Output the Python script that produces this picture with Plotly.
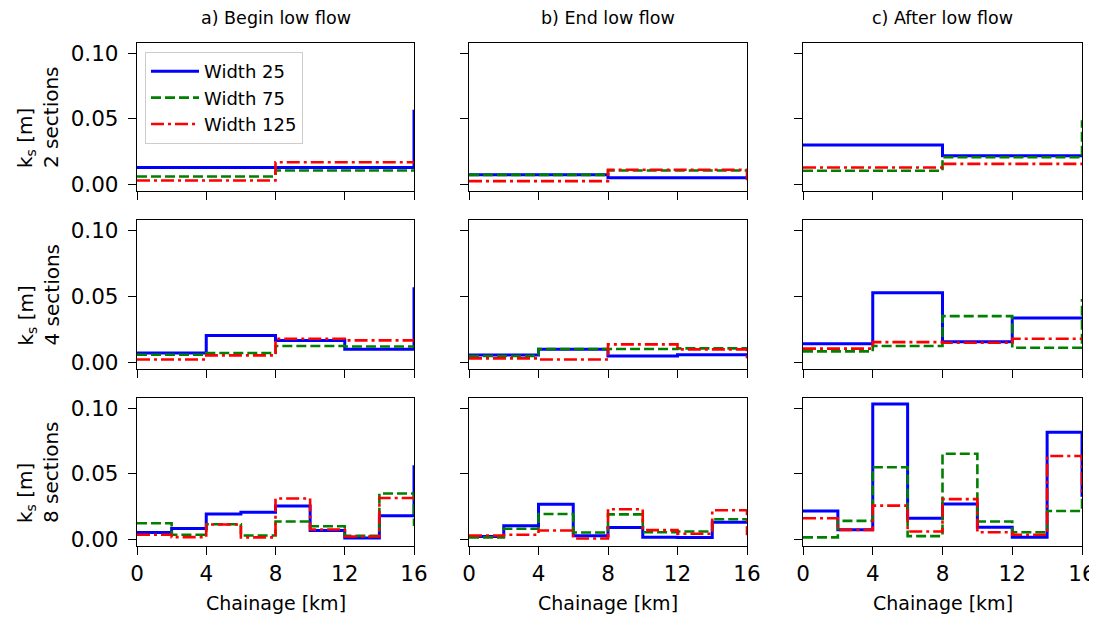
import plotly.graph_objects as go

# ---- data -------------------------------------------------------------
# section boundaries (km); last entry is the end of the reach (16 km)
edges_2 = [0, 8, 16]
edges_4 = [0, 4, 8, 12, 16]
edges_8 = [0, 2, 4, 6, 8, 10, 12, 14, 16]

series_names = ["Width 25", "Width 75", "Width 125"]
col_titles = ["a) Begin low flow", "b) End low flow", "c) After low flow"]
row_labels = ["2 sections", "4 sections", "8 sections"]
x_ticks = [0, 4, 8, 12, 16]
y_ticks = [0.0, 0.05, 0.10]
y_tick_text = ["0.00", "0.05", "0.10"]

# ks per section [m]; last value is the value reported at the end (16 km)
begin_2_w25 = [0.0127, 0.0127, 0.057]
begin_2_w75 = [0.0058, 0.0104, 0.0104]
begin_2_w125 = [0.0028, 0.0168, 0.0168]
end_2_w25 = [0.0071, 0.0048, 0.0048]
end_2_w75 = [0.0071, 0.0104, 0.0104]
end_2_w125 = [0.0023, 0.0110, 0.0030]
after_2_w25 = [0.0300, 0.0218, 0.0218]
after_2_w75 = [0.0102, 0.0206, 0.049]
after_2_w125 = [0.0127, 0.0155, 0.0155]

begin_4_w25 = [0.0069, 0.0203, 0.0165, 0.0097, 0.057]
begin_4_w75 = [0.0056, 0.0069, 0.0122, 0.0119, 0.0119]
begin_4_w125 = [0.0020, 0.0051, 0.0178, 0.0165, 0.0165]
end_4_w25 = [0.0053, 0.0097, 0.0046, 0.0056, 0.0056]
end_4_w75 = [0.0046, 0.0099, 0.0099, 0.0104, 0.0104]
end_4_w125 = [0.0028, 0.0020, 0.0135, 0.0097, 0.0010]
after_4_w25 = [0.0140, 0.0528, 0.0155, 0.0335, 0.0335]
after_4_w75 = [0.0081, 0.0122, 0.0350, 0.0109, 0.048]
after_4_w125 = [0.0102, 0.0152, 0.0147, 0.0178, 0.0178]

begin_8_w25 = [0.0051, 0.0081, 0.0193, 0.0206, 0.0254, 0.0066, 0.0008, 0.0180, 0.0566]
begin_8_w75 = [0.0122, 0.0033, 0.0114, 0.0028, 0.0135, 0.0099, 0.0025, 0.0350, 0.0100]
begin_8_w125 = [0.0033, 0.0015, 0.0112, 0.0013, 0.0312, 0.0074, 0.0020, 0.0315, 0.0315]
end_8_w25 = [0.0020, 0.0102, 0.0267, 0.0025, 0.0089, 0.0015, 0.0013, 0.0130, 0.0130]
end_8_w75 = [0.0013, 0.0079, 0.0193, 0.0051, 0.0190, 0.0053, 0.0058, 0.0152, 0.0152]
end_8_w125 = [0.0028, 0.0033, 0.0066, 0.0005, 0.0229, 0.0069, 0.0041, 0.0221, 0.0030]
after_8_w25 = [0.0216, 0.0071, 0.1036, 0.0160, 0.0269, 0.0091, 0.0015, 0.0820, 0.0325]
after_8_w75 = [0.0013, 0.0140, 0.0551, 0.0023, 0.0655, 0.0135, 0.0053, 0.0216, 0.0325]
after_8_w125 = [0.0160, 0.0071, 0.0257, 0.0058, 0.0307, 0.0053, 0.0033, 0.0638, 0.0325]

grid = [
    [(edges_2, [begin_2_w25, begin_2_w75, begin_2_w125]),
     (edges_2, [end_2_w25, end_2_w75, end_2_w125]),
     (edges_2, [after_2_w25, after_2_w75, after_2_w125])],
    [(edges_4, [begin_4_w25, begin_4_w75, begin_4_w125]),
     (edges_4, [end_4_w25, end_4_w75, end_4_w125]),
     (edges_4, [after_4_w25, after_4_w75, after_4_w125])],
    [(edges_8, [begin_8_w25, begin_8_w75, begin_8_w125]),
     (edges_8, [end_8_w25, end_8_w75, end_8_w125]),
     (edges_8, [after_8_w25, after_8_w75, after_8_w125])],
]

# ---- styling ----------------------------------------------------------
FONT = "DejaVu Sans"
OFF = 8                      # page body margin: figure is drawn at (8, 8)
W, H = 1097 - OFF, 619 - OFF

# panel edges in page pixels
col_px = [(137, 414), (469, 747), (803, 1082)]
row_px = [(43, 191), (220, 369), (398, 546)]

ML = col_px[0][0] - OFF
MR = W - (col_px[2][1] - OFF)
MT = row_px[0][0] - OFF
MB = H - (row_px[2][1] - OFF)
PW, PH = W - ML - MR, H - MT - MB


def px_x(x):
    return (x - OFF - ML) / PW


def px_y(y):
    return (H - MB - (y - OFF)) / PH


styles = [
    dict(color="#0000ff", width=3.0, dash="solid"),
    dict(color="#008000", width=2.6, dash="10px,4px"),
    dict(color="#ff0000", width=2.6, dash="13px,4px,3px,4px"),
]

fig = go.Figure()
layout = {}
Y_RANGE = [-0.0053, 0.1083]

for r in range(3):
    for c in range(3):
        idx = r * 3 + c + 1
        xa = "x" if idx == 1 else f"x{idx}"
        ya = "y" if idx == 1 else f"y{idx}"
        edges, vals = grid[r][c]
        for s in range(3):
            fig.add_trace(go.Scatter(
                x=edges, y=vals[s], mode="lines", line_shape="hv",
                line=styles[s], name=series_names[s],
                showlegend=(idx == 1), xaxis=xa, yaxis=ya,
            ))
        x0, x1 = col_px[c]
        y0, y1 = row_px[r]
        xd = [px_x(x0), px_x(x1)]
        yd = [px_y(y1), px_y(y0)]
        common = dict(
            ticks="outside", ticklen=8, tickwidth=1.3, tickcolor="black",
            showline=True, linecolor="black", linewidth=1.3, mirror=True,
            showgrid=False, zeroline=False, automargin=False,
            tickfont=dict(family=FONT, size=21.5, color="black"),
        )
        layout["xaxis" if idx == 1 else f"xaxis{idx}"] = dict(
            domain=xd, range=[0, 16], anchor=ya,
            tickmode="array", tickvals=x_ticks,
            showticklabels=(r == 2), **common,
        )
        layout["yaxis" if idx == 1 else f"yaxis{idx}"] = dict(
            domain=yd, range=Y_RANGE, anchor=xa,
            tickmode="array", tickvals=y_ticks, ticktext=y_tick_text,
            showticklabels=(c == 0), ticklabelstandoff=5, **common,
        )

annotations = []
for c in range(3):
    x0, x1 = col_px[c]
    xc = px_x((x0 + x1) / 2)
    annotations.append(dict(
        text=col_titles[c], x=xc, y=px_y(18), xref="paper", yref="paper",
        xanchor="center", yanchor="middle", showarrow=False,
        font=dict(family=FONT, size=17.5, color="black")))
    annotations.append(dict(
        text="Chainage [km]", x=xc, y=px_y(603), xref="paper", yref="paper",
        xanchor="center", yanchor="middle", showarrow=False,
        font=dict(family=FONT, size=19, color="black")))
for r in range(3):
    y0, y1 = row_px[r]
    annotations.append(dict(
        text=f"k<sub>s</sub> [m]<br>{row_labels[r]}", x=px_x(38), y=px_y((y0 + y1) / 2),
        xref="paper", yref="paper", xanchor="center", yanchor="middle",
        textangle=-90, showarrow=False, align="left",
        font=dict(family=FONT, size=20, color="black")))

fig.update_layout(
    width=W, height=H,
    margin=dict(l=ML, r=MR, t=MT, b=MB, autoexpand=False),
    plot_bgcolor="white", paper_bgcolor="white",
    showlegend=True,
    legend=dict(
        x=px_x(145), y=px_y(52), xanchor="left", yanchor="top",
        bgcolor="rgba(255,255,255,0.85)", bordercolor="#cccccc", borderwidth=1,
        font=dict(family=FONT, size=18, color="black"),
        tracegroupgap=0, itemwidth=48,
    ),
    annotations=annotations,
    **layout,
)

fig.write_html("out.html")
